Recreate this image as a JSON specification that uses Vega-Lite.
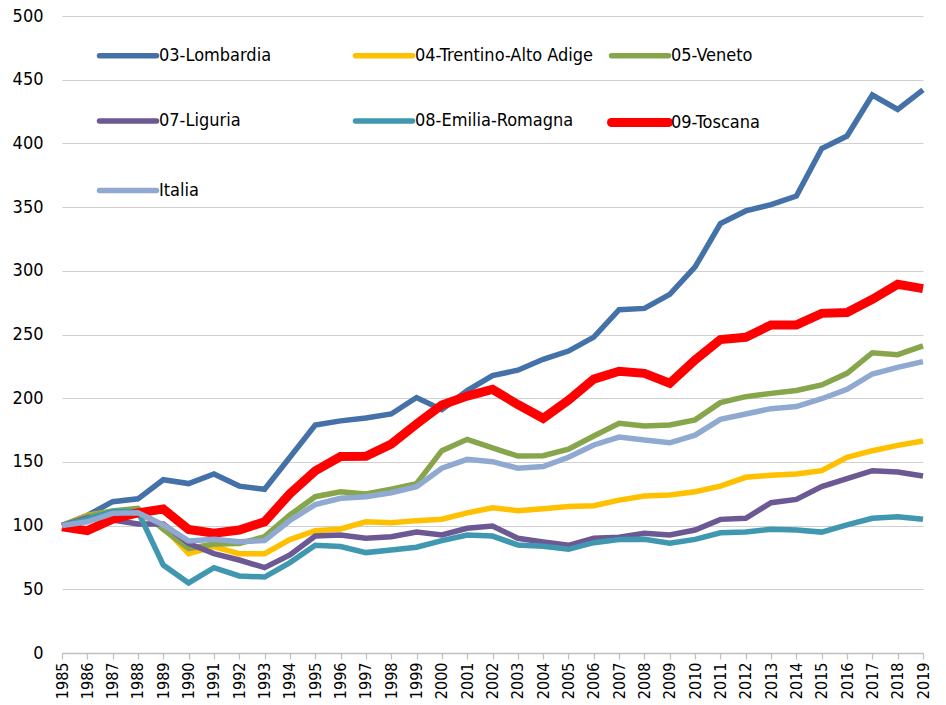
{
  "$schema": "https://vega.github.io/schema/vega-lite/v6.json",
  "width": 861,
  "height": 637,
  "autosize": {"type": "none"},
  "padding": {"left": 62, "top": 16, "right": 23, "bottom": 52},
  "background": "white",
  "config": {
    "view": {"stroke": null},
    "font": "DejaVu Sans Condensed, sans-serif"
  },
  "data": {
    "values": [
      {"year": 1985, "03-Lombardia": 100, "04-Trentino-Alto Adige": 100, "05-Veneto": 100, "07-Liguria": 100, "08-Emilia-Romagna": 100, "09-Toscana": 99, "Italia": 100},
      {"year": 1986, "03-Lombardia": 108, "04-Trentino-Alto Adige": 108, "05-Veneto": 107.5, "07-Liguria": 106, "08-Emilia-Romagna": 105, "09-Toscana": 96, "Italia": 103},
      {"year": 1987, "03-Lombardia": 118.8, "04-Trentino-Alto Adige": 111.5, "05-Veneto": 111.5, "07-Liguria": 104.4, "08-Emilia-Romagna": 111, "09-Toscana": 105, "Italia": 109.6},
      {"year": 1988, "03-Lombardia": 121, "04-Trentino-Alto Adige": 110, "05-Veneto": 113.5, "07-Liguria": 101.3, "08-Emilia-Romagna": 111, "09-Toscana": 110, "Italia": 110},
      {"year": 1989, "03-Lombardia": 136, "04-Trentino-Alto Adige": 99, "05-Veneto": 97, "07-Liguria": 101.3, "08-Emilia-Romagna": 69, "09-Toscana": 113, "Italia": 100.5},
      {"year": 1990, "03-Lombardia": 133, "04-Trentino-Alto Adige": 78, "05-Veneto": 82, "07-Liguria": 86, "08-Emilia-Romagna": 55, "09-Toscana": 97, "Italia": 88},
      {"year": 1991, "03-Lombardia": 140.5, "04-Trentino-Alto Adige": 83.5, "05-Veneto": 85.5, "07-Liguria": 78, "08-Emilia-Romagna": 67, "09-Toscana": 94, "Italia": 89.2},
      {"year": 1992, "03-Lombardia": 131, "04-Trentino-Alto Adige": 78, "05-Veneto": 86, "07-Liguria": 73, "08-Emilia-Romagna": 60.5, "09-Toscana": 96.5, "Italia": 87.4},
      {"year": 1993, "03-Lombardia": 128.5, "04-Trentino-Alto Adige": 78, "05-Veneto": 91.3, "07-Liguria": 67, "08-Emilia-Romagna": 59.6, "09-Toscana": 103, "Italia": 88.2},
      {"year": 1994, "03-Lombardia": 153.6, "04-Trentino-Alto Adige": 89, "05-Veneto": 108.3, "07-Liguria": 77, "08-Emilia-Romagna": 71, "09-Toscana": 125, "Italia": 104},
      {"year": 1995, "03-Lombardia": 179, "04-Trentino-Alto Adige": 96, "05-Veneto": 122.7, "07-Liguria": 91.8, "08-Emilia-Romagna": 84.5, "09-Toscana": 143, "Italia": 116.5},
      {"year": 1996, "03-Lombardia": 182.2, "04-Trentino-Alto Adige": 97.4, "05-Veneto": 126.6, "07-Liguria": 92.6, "08-Emilia-Romagna": 83.6, "09-Toscana": 154.2, "Italia": 121.4},
      {"year": 1997, "03-Lombardia": 184.5, "04-Trentino-Alto Adige": 103, "05-Veneto": 124.8, "07-Liguria": 90, "08-Emilia-Romagna": 78.8, "09-Toscana": 154.4, "Italia": 122.7},
      {"year": 1998, "03-Lombardia": 187.6, "04-Trentino-Alto Adige": 102.3, "05-Veneto": 128.5, "07-Liguria": 91.3, "08-Emilia-Romagna": 80.8, "09-Toscana": 164, "Italia": 125.8},
      {"year": 1999, "03-Lombardia": 200.5, "04-Trentino-Alto Adige": 103.9, "05-Veneto": 133, "07-Liguria": 95, "08-Emilia-Romagna": 83, "09-Toscana": 179.7, "Italia": 130.6},
      {"year": 2000, "03-Lombardia": 191, "04-Trentino-Alto Adige": 105, "05-Veneto": 158.8, "07-Liguria": 92.6, "08-Emilia-Romagna": 88.2, "09-Toscana": 194.7, "Italia": 145},
      {"year": 2001, "03-Lombardia": 206, "04-Trentino-Alto Adige": 110, "05-Veneto": 167.7, "07-Liguria": 97.9, "08-Emilia-Romagna": 92.6, "09-Toscana": 201.7, "Italia": 152},
      {"year": 2002, "03-Lombardia": 217.7, "04-Trentino-Alto Adige": 114, "05-Veneto": 161, "07-Liguria": 99.7, "08-Emilia-Romagna": 91.8, "09-Toscana": 207, "Italia": 150.2},
      {"year": 2003, "03-Lombardia": 222, "04-Trentino-Alto Adige": 111.7, "05-Veneto": 154.6, "07-Liguria": 90, "08-Emilia-Romagna": 84.8, "09-Toscana": 195, "Italia": 145},
      {"year": 2004, "03-Lombardia": 230.5, "04-Trentino-Alto Adige": 113.3, "05-Veneto": 154.8, "07-Liguria": 87.1, "08-Emilia-Romagna": 83.7, "09-Toscana": 184.2, "Italia": 146.3},
      {"year": 2005, "03-Lombardia": 237, "04-Trentino-Alto Adige": 114.9, "05-Veneto": 159.9, "07-Liguria": 84.5, "08-Emilia-Romagna": 81.4, "09-Toscana": 198.5, "Italia": 153.6},
      {"year": 2006, "03-Lombardia": 248, "04-Trentino-Alto Adige": 115.6, "05-Veneto": 170.3, "07-Liguria": 90, "08-Emilia-Romagna": 86.6, "09-Toscana": 215, "Italia": 163.3},
      {"year": 2007, "03-Lombardia": 269.5, "04-Trentino-Alto Adige": 120, "05-Veneto": 180.3, "07-Liguria": 90.8, "08-Emilia-Romagna": 89, "09-Toscana": 221.2, "Italia": 169.5},
      {"year": 2008, "03-Lombardia": 270.5, "04-Trentino-Alto Adige": 123.2, "05-Veneto": 178.2, "07-Liguria": 94, "08-Emilia-Romagna": 89.2, "09-Toscana": 219.5, "Italia": 167.2},
      {"year": 2009, "03-Lombardia": 281.5, "04-Trentino-Alto Adige": 124, "05-Veneto": 179, "07-Liguria": 92.6, "08-Emilia-Romagna": 86.1, "09-Toscana": 211.7, "Italia": 165},
      {"year": 2010, "03-Lombardia": 303, "04-Trentino-Alto Adige": 126.6, "05-Veneto": 183, "07-Liguria": 96.5, "08-Emilia-Romagna": 89.2, "09-Toscana": 230, "Italia": 171},
      {"year": 2011, "03-Lombardia": 337, "04-Trentino-Alto Adige": 131, "05-Veneto": 196.5, "07-Liguria": 104.9, "08-Emilia-Romagna": 94.4, "09-Toscana": 246, "Italia": 183.4},
      {"year": 2012, "03-Lombardia": 347, "04-Trentino-Alto Adige": 137.9, "05-Veneto": 201.2, "07-Liguria": 105.7, "08-Emilia-Romagna": 94.9, "09-Toscana": 247.8, "Italia": 187.6},
      {"year": 2013, "03-Lombardia": 352, "04-Trentino-Alto Adige": 139.5, "05-Veneto": 203.8, "07-Liguria": 118, "08-Emilia-Romagna": 97.1, "09-Toscana": 257.5, "Italia": 191.8},
      {"year": 2014, "03-Lombardia": 358.7, "04-Trentino-Alto Adige": 140.5, "05-Veneto": 206, "07-Liguria": 120.6, "08-Emilia-Romagna": 96.6, "09-Toscana": 257.5, "Italia": 193.4},
      {"year": 2015, "03-Lombardia": 396, "04-Trentino-Alto Adige": 143.1, "05-Veneto": 210.4, "07-Liguria": 130.6, "08-Emilia-Romagna": 94.9, "09-Toscana": 266.6, "Italia": 199.6},
      {"year": 2016, "03-Lombardia": 405.8, "04-Trentino-Alto Adige": 153.6, "05-Veneto": 219.5, "07-Liguria": 136.8, "08-Emilia-Romagna": 100.5, "09-Toscana": 267.2, "Italia": 207},
      {"year": 2017, "03-Lombardia": 438, "04-Trentino-Alto Adige": 158.8, "05-Veneto": 235.7, "07-Liguria": 143.1, "08-Emilia-Romagna": 105.7, "09-Toscana": 277.6, "Italia": 219},
      {"year": 2018, "03-Lombardia": 426.7, "04-Trentino-Alto Adige": 163, "05-Veneto": 234.2, "07-Liguria": 142, "08-Emilia-Romagna": 107, "09-Toscana": 289.4, "Italia": 224.2},
      {"year": 2019, "03-Lombardia": 442, "04-Trentino-Alto Adige": 166.4, "05-Veneto": 241, "07-Liguria": 139, "08-Emilia-Romagna": 104.9, "09-Toscana": 286, "Italia": 228.7}
    ]
  },
  "transform": [
    {"fold": ["03-Lombardia", "04-Trentino-Alto Adige", "05-Veneto", "07-Liguria", "08-Emilia-Romagna", "09-Toscana", "Italia"], "as": ["region", "value"]}
  ],
  "mark": {"type": "line", "strokeJoin": "miter", "strokeCap": "butt"},
  "encoding": {
    "x": {
      "field": "year", "type": "ordinal",
      "scale": {"padding": 0},
      "axis": {
        "title": null, "labelAngle": -90, "labelFontSize": 16, "labelColor": "#000000",
        "labelPadding": 3, "domainColor": "#bfbfbf", "domainWidth": 1.5,
        "tickColor": "#bfbfbf", "tickSize": 6, "tickWidth": 1.2, "grid": false
      }
    },
    "y": {
      "field": "value", "type": "quantitative",
      "scale": {"domain": [0, 500], "nice": false},
      "axis": {
        "title": null, "values": [0, 50, 100, 150, 200, 250, 300, 350, 400, 450, 500],
        "labelFontSize": 18, "labelColor": "#000000", "labelPadding": 19,
        "domain": false, "ticks": false, "grid": true, "gridColor": "#d0d0d0", "gridWidth": 1.2
      }
    },
    "color": {
      "field": "region", "type": "nominal",
      "scale": {
        "domain": ["03-Lombardia", "04-Trentino-Alto Adige", "05-Veneto", "07-Liguria", "08-Emilia-Romagna", "09-Toscana", "Italia"],
        "range": ["#4472a8", "#ffc000", "#87a64c", "#6c5893", "#3f98b0", "#ff0000", "#8fa9d0"]
      },
      "legend": {
        "title": null, "orient": "none", "direction": "horizontal", "legendX": 33, "legendY": 4,
        "columns": 3, "gridAlign": "all", "columnPadding": -1, "rowPadding": 18.5,
        "symbolType": "stroke", "symbolSize": 3249, "symbolStrokeWidth": 6,
        "labelFontSize": 18, "labelColor": "#000000", "labelOffset": -2, "labelLimit": 400,
        "encode": {
          "symbols": {
            "update": {
              "strokeWidth": {"signal": "datum.value === '09-Toscana' ? 9 : 6"},
              "strokeCap": {"value": "round"}
            }
          }
        }
      }
    },
    "strokeWidth": {
      "field": "region", "type": "nominal",
      "scale": {
        "type": "ordinal",
        "domain": ["03-Lombardia", "04-Trentino-Alto Adige", "05-Veneto", "07-Liguria", "08-Emilia-Romagna", "09-Toscana", "Italia"],
        "range": [5.5, 5.5, 5.5, 5.5, 5.5, 9, 5.5]
      },
      "legend": null
    }
  }
}
